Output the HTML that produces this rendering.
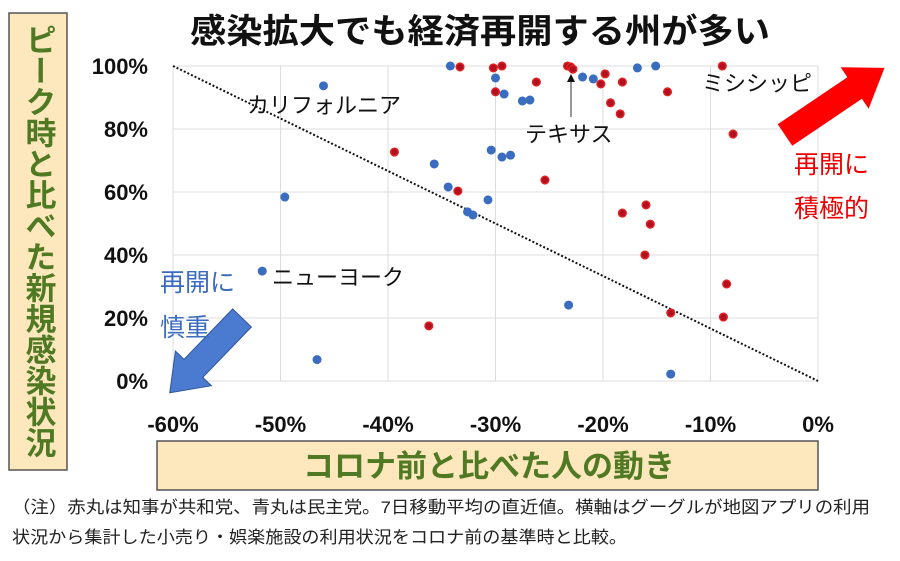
<!DOCTYPE html>
<html><head><meta charset="utf-8">
<style>
body{margin:0;background:#fff;}
svg text{font-family:"Liberation Sans","Noto Sans CJK JP",sans-serif;}
</style></head>
<body>
<svg id="c" width="900" height="556" viewBox="0 0 900 556" xmlns="http://www.w3.org/2000/svg">
<text x="480" y="43" text-anchor="middle" font-size="34" font-weight="bold" fill="#111" textLength="580" lengthAdjust="spacingAndGlyphs">感染拡大でも経済再開する州が多い</text>
<rect x="9" y="13" width="58" height="457" fill="#fde7bd" stroke="#555" stroke-width="1.5"/>
<text x="38" y="24" font-size="31" font-weight="bold" fill="#4f7a23" style="writing-mode:vertical-rl;glyph-orientation-vertical:0">ピーク時と比べた新規感染状況</text>
<rect x="157" y="441" width="661" height="49" fill="#fde7bd" stroke="#555" stroke-width="1.5"/>
<text x="489" y="477" text-anchor="middle" font-size="31" font-weight="bold" fill="#4f7a23">コロナ前と比べた人の動き</text>
<text x="12" y="513" font-size="17" fill="#222" textLength="858" lengthAdjust="spacingAndGlyphs">（注）赤丸は知事が共和党、青丸は民主党。7日移動平均の直近値。横軸はグーグルが地図アプリの利用</text>
<text x="12" y="543" font-size="17" fill="#222" textLength="615" lengthAdjust="spacingAndGlyphs">状況から集計した小売り・娯楽施設の利用状況をコロナ前の基準時と比較。</text>
<g id="grid"></g><g id="marks"></g>
<text x="247" y="113" font-size="22" fill="#111">カリフォルニア</text>
<text x="525" y="142" font-size="22" fill="#111">テキサス</text>
<line x1="571" y1="117" x2="571" y2="80" stroke="#333" stroke-width="1"/>
<polygon points="571,74 567,82 575,82" fill="#111"/>
<text x="702" y="91" font-size="22" fill="#111">ミシシッピ</text>
<text x="272" y="285" font-size="22" fill="#111">ニューヨーク</text>
<g transform="translate(785,135) rotate(-34)">
<polygon points="0,-13 84,-13 84,-25 120,0 84,25 84,13 0,13" fill="#f00"/>
</g>
<text x="794" y="173" font-size="25" fill="#e00">再開に</text>
<text x="794" y="217" font-size="25" fill="#e00">積極的</text>
<g transform="translate(242,318) rotate(134)">
<polygon points="0,-13 70,-13 70,-25 104,0 70,25 70,13 0,13" fill="#4a7bd0" stroke="#2f5597" stroke-width="1"/>
</g>
<text x="160" y="291" font-size="25" fill="#3a6cc0">再開に</text>
<text x="160" y="336" font-size="25" fill="#3a6cc0">慎重</text>
</svg>
<script>
const xTicks=[-60,-50,-40,-30,-20,-10,0];
const yTicks=[0,20,40,60,80,100];
const trendLine=[[-60,100],[0,0]];
const blueX=[-34.2,-30,-46,-29.2,-27.5,-26.8,-30.4,-29.4,-28.6,-35.7,-34.4,-49.6,-30.7,-32.6,-32.1,-21.9,-20.9,-16.8,-15.1,-51.7,-23.2,-46.6,-13.7];
const blueY=[100,96.2,93.7,91.1,88.9,89.2,73.3,71.1,71.7,68.9,61.6,58.4,57.5,53.7,52.7,96.5,95.9,99.4,100,34.9,24.1,6.8,2.2];
const redX=[-33.3,-30.2,-29.4,-26.2,-30,-39.4,-25.4,-33.5,-23.3,-23,-22.8,-19.8,-20.2,-18.2,-8.9,-14,-19.3,-18.4,-7.9,-16,-18.2,-15.6,-16.1,-8.5,-13.7,-8.8,-36.2];
const redY=[99.7,99.4,100,94.9,91.8,72.7,63.8,60.3,100,99.7,99,97.5,94.3,94.9,100,91.8,88.3,84.8,78.4,55.9,53.3,49.8,40,30.8,21.6,20.3,17.5];
const NS='http://www.w3.org/2000/svg';
const sx=v=>173+(v+60)/60*645;
const sy=v=>381-v/100*315;
const grid=document.getElementById('grid'),marks=document.getElementById('marks');
function mk(tag,attrs,parent){const e=document.createElementNS(NS,tag);for(const k in attrs)e.setAttribute(k,attrs[k]);parent.appendChild(e);return e;}
xTicks.forEach(t=>{
 const l=mk('line',{x1:sx(t),x2:sx(t),y1:sy(100),y2:sy(0),stroke:'#dcdcdc','stroke-width':1},grid);
 
 
 const tx=mk('text',{x:sx(t),y:432,'text-anchor':'middle','font-size':22,'font-weight':'bold',fill:'#111'},grid);
 tx.textContent=t+'%';
 
 
});
yTicks.forEach(t=>{
 const l=mk('line',{x1:sx(-60),x2:sx(0),y1:sy(t),y2:sy(t),stroke:'#dcdcdc','stroke-width':1},grid);
 
 
 const tx=mk('text',{x:148,y:sy(t)+8,'text-anchor':'end','font-size':22,'font-weight':'bold',fill:'#111'},grid);
 tx.textContent=t+'%';
 
 
});
const tl=mk('line',{x1:sx(trendLine[0][0]),y1:sy(trendLine[0][1]),x2:sx(trendLine[1][0]),y2:sy(trendLine[1][1]),stroke:'#111','stroke-width':2,'stroke-dasharray':'2,2'},marks);


blueX.forEach((x,i)=>{
 const c=mk('circle',{cx:sx(x),cy:sy(blueY[i]),r:4.5,fill:'#3a6cbf'},marks);
 
 
});
redX.forEach((x,i)=>{
 const c=mk('circle',{cx:sx(x),cy:sy(redY[i]),r:3.8,fill:'#b01020',stroke:'#e02020','stroke-width':1.5},marks);
 
 
});
</script>
</body></html>
